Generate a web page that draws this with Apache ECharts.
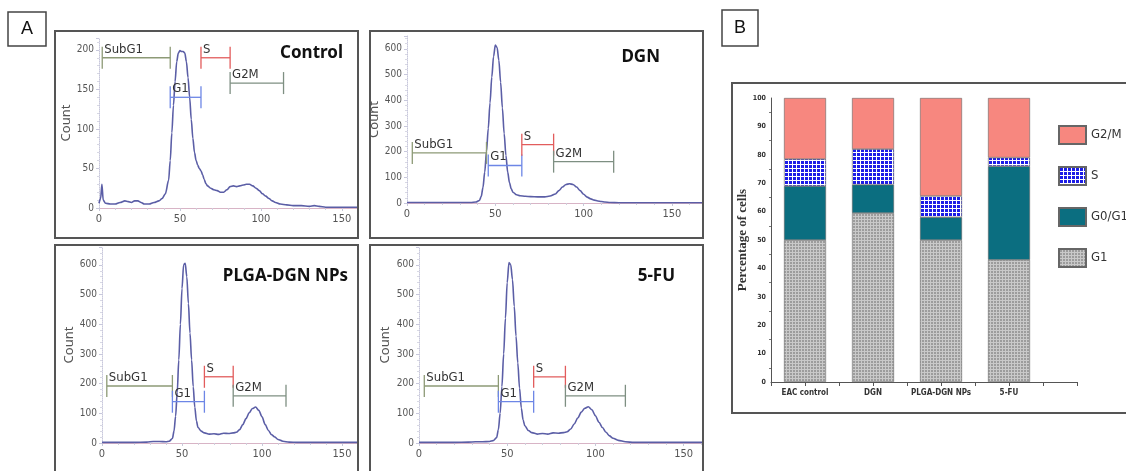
<!doctype html>
<html>
<head>
<meta charset="utf-8">
<title>Cell cycle</title>
<script src="https://cdn.jsdelivr.net/npm/echarts@6.0.0/dist/echarts.min.js"></script>
</head>
<body style="margin:0;padding:0;background:#fff">
<div id="fig" style="width:1126px;height:471px;"></div>
<script>
// histogram panels (A): [channel, count]
var histTitles = ['Control', 'DGN', 'PLGA-DGN NPs', '5-FU'];
var controlCurve = [[0,6],[1,12],[1.8,30],[2.6,10],[4,6],[7,5],[10,5],[13,7],[16,9],[18,8],[20,7],[22,9],[24,9],[26,7],[28,5],[31,5],[34,7],[37,9],[39,12],[41,18],[43,35],[44,60],[45,95],[46,130],[47,160],[48,185],[49,196],[50,199],[51,198],[52,198],[53,196],[54,185],[55,165],[56,140],[57,112],[58,88],[59,70],[60,60],[61,54],[62,50],[63,47],[64,42],[65,36],[66,31],[67,28],[69,25],[71,23],[73,22],[75,20],[77,20],[79,23],[81,27],[83,28],[85,27],[87,28],[89,29],[91,30],[93,30],[95,28],[97,25],[99,22],[101,18],[103,15],[105,12],[107,9],[109,7],[112,5],[116,4],[120,3],[125,3],[130,2],[133,3],[136,2],[140,1],[150,1],[160,1]];
var dgnCurve = [[0,2],[5,2],[10,2],[20,2],[30,2],[36,2],[39,4],[41,10],[42,25],[43,60],[44,120],[45,200],[46,290],[47,390],[48,490],[49,570],[50,615],[51,605],[52,555],[53,470],[54,370],[55,270],[56,185],[57,120],[58,80],[59,55],[60,42],[62,32],[64,28],[67,26],[70,25],[74,24],[78,24],[81,27],[84,35],[86,48],[88,62],[90,72],[92,75],[94,72],[96,62],[98,48],[100,34],[102,23],[104,16],[106,11],[108,8],[110,6],[112,4],[115,2],[120,1],[130,1],[150,1],[167,1]];
var plgaCurve = [[0,2],[10,2],[20,2],[28,3],[32,5],[36,5],[40,4],[42,6],[44,15],[45,40],[46,90],[47,170],[48,280],[49,400],[50,520],[51,600],[52,605],[53,560],[54,470],[55,370],[56,280],[57,190],[58,120],[59,75],[60,52],[62,40],[64,34],[67,30],[70,31],[73,29],[76,33],[79,32],[82,34],[84,36],[86,45],[88,62],[90,82],[92,102],[94,116],[96,121],[98,110],[100,88],[102,62],[104,42],[106,28],[108,20],[110,12],[113,6],[117,3],[122,2],[140,2],[160,2]];
var fuCurve = [[0,2],[10,2],[20,2],[28,3],[32,4],[36,4],[40,5],[42,8],[44,18],[45,45],[46,100],[47,190],[48,300],[49,420],[50,540],[51,608],[52,600],[53,550],[54,460],[55,360],[56,270],[57,185],[58,118],[59,78],[60,58],[62,42],[64,35],[67,30],[70,32],[73,30],[76,34],[79,33],[82,35],[84,38],[86,47],[88,64],[90,84],[92,104],[94,117],[96,122],[98,112],[100,92],[102,70],[104,52],[106,36],[108,24],[110,16],[113,9],[117,4],[122,2],[140,2],[161,2]];

// gates: [start, end, level], order follows gateNames
var gateNames = ['SubG1', 'G1', 'S', 'G2M'];
var controlGates = [[2,44,190],[44,63,140],[63,81,190],[81,114,158]];
var dgnGates = [[3,45,195],[46,65,146],[65,83,227],[83,117,161]];
var plgaGates = [[3,44,192],[44,64,139],[64,82,223],[82,115,159]];
var fuGates = [[3,45,192],[45,65,139],[65,83,223],[83,117,159]];

var histYMax = [215, 650, 660, 660];
var histXMax = [160, 167, 160, 161];
var histYStep = [50, 100, 100, 100];

// stacked bars (B), percent of cells
var barCategories = ['EAC control', 'DGN', 'PLGA-DGN NPs', '5-FU'];
var g1Vals = [50, 59.5, 50, 43];
var g0g1Vals = [19, 10, 8, 33];
var sVals = [9.5, 12.5, 7.5, 3];
var g2mVals = [21.5, 18, 34.5, 21];

var curves = [controlCurve, dgnCurve, plgaCurve, fuCurve];
var gates = [controlGates, dgnGates, plgaGates, fuGates];
var gateColors = ['#8d9a76', '#6d86e6', '#e25c5c', '#7e8f82'];
var narrow = '"Liberation Sans Narrow", "DejaVu Sans Condensed", sans-serif';

// panel placement (px)
var grids = [
  {left: 99, top: 38, width: 259, height: 170},
  {left: 407, top: 36, width: 295, height: 167},
  {left: 102, top: 247, width: 256, height: 196},
  {left: 419, top: 247, width: 284, height: 196},
  {left: 771, top: 98, width: 306, height: 284}
];
var countGap = [26, 25, 25, 27];
var frames = [[55,31,303,207],[370,31,333,207],[55,245,303,232],[370,245,333,232],[732,83,400,330]];
var titlePos = [[343,53],[660,57],[348,276],[675,276]];

function pattern(bg, fg, size) {
  var c = document.createElement('canvas');
  c.width = size; c.height = size;
  var g = c.getContext('2d');
  g.fillStyle = bg; g.fillRect(0, 0, size, size);
  g.fillStyle = fg; g.fillRect(0, 0, size, 1); g.fillRect(0, 0, 1, size);
  return {image: c, repeat: 'repeat'};
}

function renderGate(params, api) {
  var y = api.value(2);
  var p1 = api.coord([api.value(0), y]);
  var p2 = api.coord([api.value(1), y]);
  var st = {stroke: gateColors[params.dataIndex], lineWidth: 1.3};
  return {type: 'group', children: [
    {type: 'line', shape: {x1: p1[0], y1: p1[1], x2: p2[0], y2: p2[1]}, style: st},
    {type: 'line', shape: {x1: p1[0], y1: p1[1] - 11, x2: p1[0], y2: p1[1] + 11}, style: st},
    {type: 'line', shape: {x1: p2[0], y1: p2[1] - 11, x2: p2[0], y2: p2[1] + 11}, style: st},
    {type: 'text', x: p1[0] + 2, y: p1[1] - 2, style: {text: gateNames[params.dataIndex], fill: '#333', font: '13px ' + narrow, verticalAlign: 'bottom'}}
  ]};
}

var xAxes = [], yAxes = [], series = [], graphics = [];
for (var i = 0; i < 4; i++) {
  xAxes.push({
    type: 'value', gridIndex: i, min: 0, max: histXMax[i], interval: 50,
    axisLine: {lineStyle: {color: '#d8b4c6'}},
    axisTick: {length: 3, lineStyle: {color: '#c8c8d8'}},
    minorTick: {show: true, splitNumber: 5, length: 2, lineStyle: {color: '#d0d0dc'}},
    splitLine: {show: false},
    axisLabel: {color: '#555', fontSize: 11, fontFamily: narrow, margin: 6,
      formatter: function (v) { return v % 50 === 0 ? v : ''; }}
  });
  yAxes.push({
    type: 'value', gridIndex: i, min: 0, max: histYMax[i], interval: histYStep[i],
    name: 'Count', nameLocation: 'middle', nameGap: countGap[i],
    nameTextStyle: {color: '#555', fontSize: 13, fontFamily: '"Noto Sans", sans-serif'},
    axisLine: {show: true, lineStyle: {color: '#c8c8dc', type: 'dotted'}},
    axisTick: {show: true, length: 3, lineStyle: {color: '#c8c8dc'}},
    minorTick: {show: true, splitNumber: 5, length: 2, lineStyle: {color: '#d8d8e4'}},
    splitLine: {show: false},
    axisLabel: {color: '#555', fontSize: 10, fontFamily: narrow, margin: 5,
      formatter: (function (step) { return function (v) { return v % step === 0 ? v : ''; }; })(histYStep[i])}
  });
  series.push({
    type: 'line', xAxisIndex: i, yAxisIndex: i, data: curves[i],
    showSymbol: false, smooth: 0.3, smoothMonotone: 'x',
    lineStyle: {color: '#5b5ea6', width: 1.6}
  });
  series.push({
    type: 'custom', xAxisIndex: i, yAxisIndex: i, data: gates[i],
    encode: {x: [0, 1], y: 2}, renderItem: renderGate, z: 4
  });
  graphics.push({type: 'text', x: titlePos[i][0], y: titlePos[i][1],
    style: {text: histTitles[i], fill: '#111', font: 'bold 17px "Noto Sans", sans-serif', align: 'right', verticalAlign: 'middle'}});
}

// panel B: half-step slots so ticks fall between the bars, as in the original axis
var slots = [''];
barCategories.forEach(function (c) { slots.push(c, ''); });
slots.push('');
function slotData(vals) {
  var out = slots.map(function () { return '-'; });
  vals.forEach(function (v, k) { out[2 * k + 1] = v; });
  return out;
}
xAxes.push({
  type: 'category', gridIndex: 4, data: slots, boundaryGap: false,
  axisLine: {lineStyle: {color: '#555'}},
  axisTick: {length: 4, interval: 0, lineStyle: {color: '#555'}},
  axisLabel: {color: '#333', fontSize: 8, fontWeight: 'bold', fontFamily: narrow, margin: 7, interval: 0}
});
yAxes.push({
  type: 'value', gridIndex: 4, min: 0, max: 100, interval: 10,
  name: 'Percentage of cells', nameLocation: 'middle', nameGap: 20,
  nameTextStyle: {color: '#333', fontSize: 13, fontWeight: 'bold', fontFamily: '"Liberation Serif", serif'},
  axisLine: {show: true, lineStyle: {color: '#555'}},
  axisTick: {length: 3, lineStyle: {color: '#555'}},
  minorTick: {show: true, splitNumber: 2, length: 2, lineStyle: {color: '#777'}},
  splitLine: {show: false},
  axisLabel: {color: '#333', fontSize: 7, fontWeight: 'bold', fontFamily: narrow, margin: 5}
});

var barDefs = [
  ['G1', g1Vals, pattern('#9c9c9c', '#c9c9c9', 3)],
  ['G0/G1', g0g1Vals, '#0b6e80'],
  ['S', sVals, pattern('#1c1ce6', '#ffffff', 4)],
  ['G2/M', g2mVals, '#f7877f']
];
barDefs.forEach(function (d) {
  series.push({
    name: d[0], type: 'bar', stack: 'cells', xAxisIndex: 4, yAxisIndex: 4,
    data: slotData(d[1]), barWidth: 42,
    itemStyle: {color: d[2], borderColor: '#666', borderWidth: 0.6}
  });
});

frames.forEach(function (f) {
  graphics.push({type: 'rect', shape: {x: f[0], y: f[1], width: f[2], height: f[3]},
    style: {fill: 'none', stroke: '#555', lineWidth: 2}, z: 10});
});
graphics.push({type: 'rect', shape: {x: 8, y: 12, width: 38, height: 34}, style: {fill: 'none', stroke: '#444', lineWidth: 1.5}});
graphics.push({type: 'text', x: 27, y: 29, style: {text: 'A', fill: '#111', font: '18px "Liberation Sans", sans-serif', align: 'center', verticalAlign: 'middle'}});
graphics.push({type: 'rect', shape: {x: 722, y: 10, width: 36, height: 36}, style: {fill: 'none', stroke: '#444', lineWidth: 1.5}});
graphics.push({type: 'text', x: 740, y: 28, style: {text: 'B', fill: '#111', font: '18px "Liberation Sans", sans-serif', align: 'center', verticalAlign: 'middle'}});

var chart = echarts.init(document.getElementById('fig'));
chart.setOption({
  animation: false,
  grid: grids,
  xAxis: xAxes,
  yAxis: yAxes,
  legend: {
    data: ['G2/M', 'S', 'G0/G1', 'G1'], orient: 'vertical', left: 1058, top: 125, padding: 0,
    itemWidth: 27, itemHeight: 18, itemGap: 21, icon: 'rect',
    textStyle: {fontSize: 13, fontFamily: narrow, color: '#333'}
  },
  graphic: graphics,
  series: series
});
</script>
</body>
</html>
